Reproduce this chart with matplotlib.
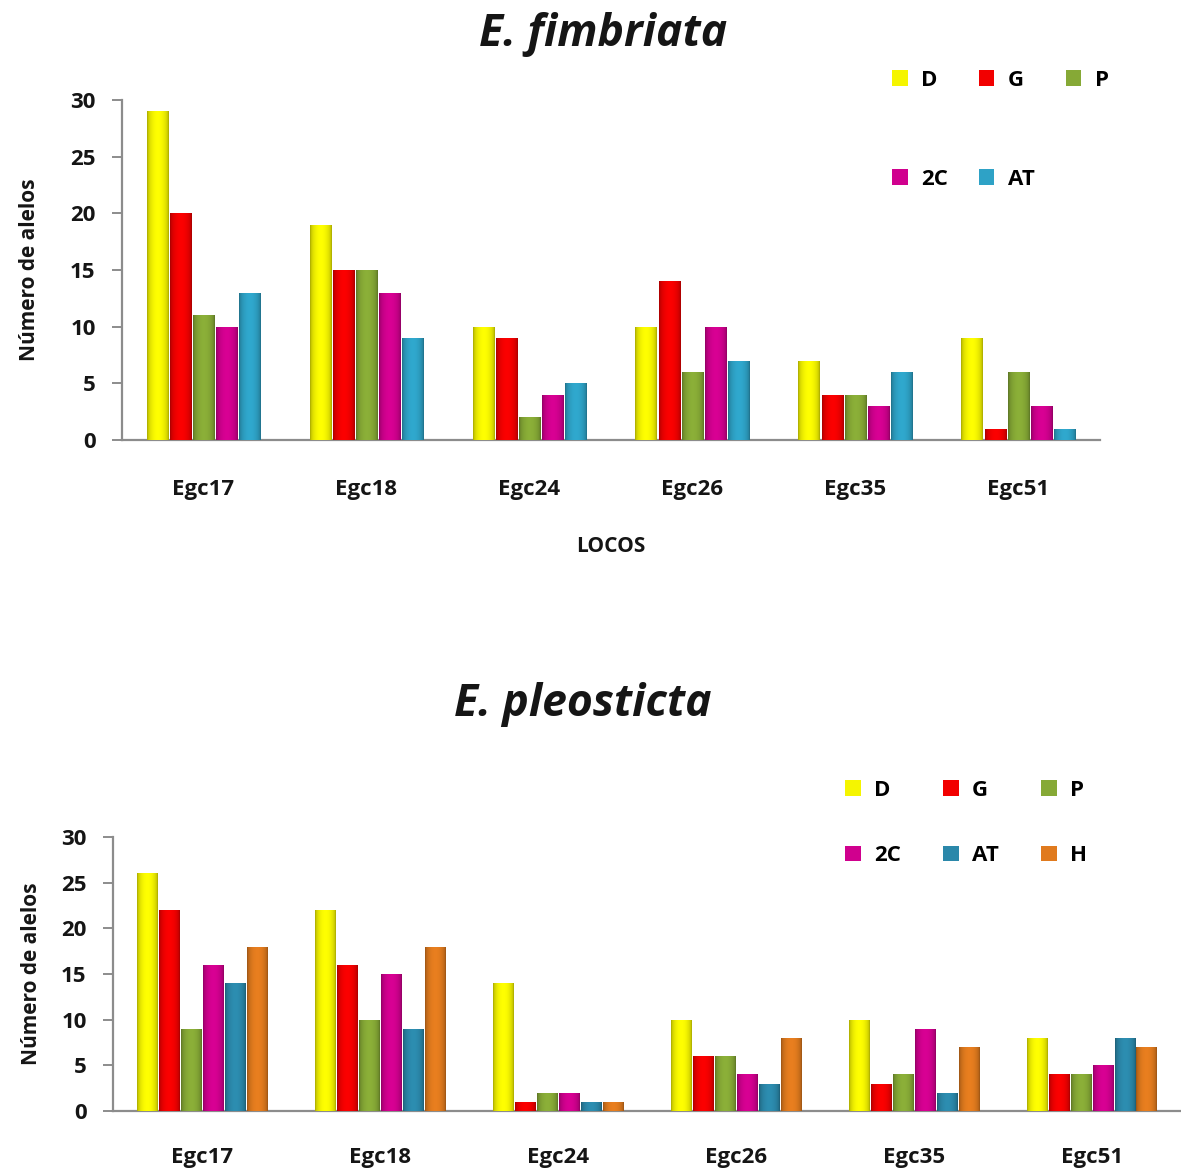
"""Number of alleles per locus for E. fimbriata and E. pleosticta populations."""
import numpy as np
import matplotlib
matplotlib.use('Agg')
from matplotlib import pyplot as plt
from matplotlib.colors import to_rgb

plt.rcParams['font.family'] = ['Open Sans', 'DejaVu Sans']

LOCI = ['Egc17', 'Egc18', 'Egc24', 'Egc26', 'Egc35', 'Egc51']

# E. fimbriata, alleles per locus for each population
fim_D = [29, 19, 10, 10, 7, 9]
fim_G = [20, 15, 9, 14, 4, 1]
fim_P = [11, 15, 2, 6, 4, 6]
fim_2C = [10, 13, 4, 10, 3, 3]
fim_AT = [13, 9, 5, 7, 6, 1]

# E. pleosticta
ple_D = [26, 22, 14, 10, 10, 8]
ple_G = [22, 16, 1, 6, 3, 4]
ple_P = [9, 10, 2, 6, 4, 4]
ple_2C = [16, 15, 2, 4, 9, 5]
ple_AT = [14, 9, 1, 3, 2, 8]
ple_H = [18, 18, 1, 8, 7, 7]

COLORS = {
    'D': '#F5F500',
    'G': '#F20000',
    'P': '#86A936',
    '2C': '#D0008E',
    'AT': '#2EA2C6',
    'AT2': '#2B88AA',
    'H': '#E07A1E',
}

TEXT_COLOR = '#151515'
SPINE_COLOR = '#8c8c8c'


def shade_bars(ax, bars, color):
    """Overlay a horizontal gradient on each bar for a bevelled look."""
    base = np.array(to_rgb(color))
    t = np.linspace(0, 1, 40)
    prof = 0.68 + 0.36 * np.sin(np.pi * t) ** 0.5
    img = np.clip(base[None, :] * prof[:, None], 0, 1)[None, :, :]
    for rect in bars:
        x, w, h = rect.get_x(), rect.get_width(), rect.get_height()
        im = ax.imshow(img, extent=(x, x + w, 0, h), aspect='auto',
                       interpolation='bilinear', zorder=3)
        im.set_clip_path(rect)


def bar_chart(ax, series, names, colors, group_width):
    n = len(series)
    bw = group_width / n
    x = np.arange(len(LOCI))
    handles = []
    for i, (vals, c) in enumerate(zip(series, colors)):
        off = (i - n / 2) * bw + bw / 2
        bars = ax.bar(x + off, vals, width=bw * 0.92, color=c,
                      edgecolor=c, linewidth=0, zorder=2)
        shade_bars(ax, bars, c)
        handles.append(bars[0])
    ax.set_xlim(-0.5, len(LOCI) - 0.5)
    ax.set_ylim(0, 30)
    ax.set_yticks(range(0, 31, 5))
    ax.set_xticks(x)
    ax.set_xticklabels(LOCI)
    for s in ['top', 'right']:
        ax.spines[s].set_visible(False)
    for s in ['left', 'bottom']:
        ax.spines[s].set_color(SPINE_COLOR)
        ax.spines[s].set_linewidth(1.6)
    ax.tick_params(axis='y', length=7, width=1.4, color=SPINE_COLOR,
                   labelsize=16, labelcolor=TEXT_COLOR, pad=12)
    ax.tick_params(axis='x', length=0, labelsize=16, labelcolor=TEXT_COLOR)
    for lab in ax.get_xticklabels() + ax.get_yticklabels():
        lab.set_fontweight('bold')
    # legend is filled column-major, so reorder to read row by row
    order = [0, 3, 1, 4, 2, 5] if n == 6 else [0, 3, 1, 4, 2]
    return [handles[k] for k in order], [names[k] for k in order]


fig = plt.figure(figsize=(11.81, 11.73), dpi=100)
fig.patch.set_facecolor('white')

# top panel
ax1 = fig.add_axes([0.1033, 0.6249, 0.828, 0.2899])
fim_names = ['D', 'G', 'P', '2C', 'AT']
fim_colors = [COLORS[k] for k in fim_names]
h, l = bar_chart(ax1, [fim_D, fim_G, fim_P, fim_2C, fim_AT], fim_names,
                 fim_colors, 0.71)
ax1.tick_params(axis='x', pad=28)
ax1.set_xlabel('LOCOS', fontsize=15, fontweight='bold', color=TEXT_COLOR,
               labelpad=26)
ax1.set_ylabel('Número de alelos', fontsize=15, fontweight='bold',
               color=TEXT_COLOR, labelpad=22)
ax1.legend(h, l, ncol=3, loc='upper left', bbox_to_anchor=(0.7553, 0.9403),
           bbox_transform=fig.transFigure, frameon=False, borderpad=0,
           borderaxespad=0, handlelength=0.7, handleheight=0.7,
           handletextpad=0.6, columnspacing=1.4, labelspacing=3.5,
           prop={'size': 16, 'weight': 'bold'})
fig.text(0.5106, 0.9702, 'E. fimbriata', ha='center', va='center',
         fontsize=32, fontweight='bold', fontstyle='italic', color=TEXT_COLOR)

# bottom panel
ax2 = fig.add_axes([0.0957, 0.0529, 0.904, 0.2336])
ple_names = ['D', 'G', 'P', '2C', 'AT', 'H']
ple_colors = [COLORS[k] for k in ['D', 'G', 'P', '2C', 'AT2', 'H']]
h, l = bar_chart(ax2, [ple_D, ple_G, ple_P, ple_2C, ple_AT, ple_H],
                 ple_names, ple_colors, 0.74)
ax2.tick_params(axis='x', pad=26)
ax2.set_ylabel('Número de alelos', fontsize=15, fontweight='bold',
               color=TEXT_COLOR, labelpad=14)
ax2.legend(h, l, ncol=3, loc='upper left', bbox_to_anchor=(0.7155, 0.3351),
           bbox_transform=fig.transFigure, frameon=False, borderpad=0,
           borderaxespad=0, handlelength=0.7, handleheight=0.7,
           handletextpad=0.6, columnspacing=1.9, labelspacing=2.0,
           prop={'size': 16, 'weight': 'bold'})
fig.text(0.4937, 0.399, 'E. pleosticta', ha='center', va='center',
         fontsize=32, fontweight='bold', fontstyle='italic', color=TEXT_COLOR)

plt.savefig('out.png', dpi=100, facecolor='white')
